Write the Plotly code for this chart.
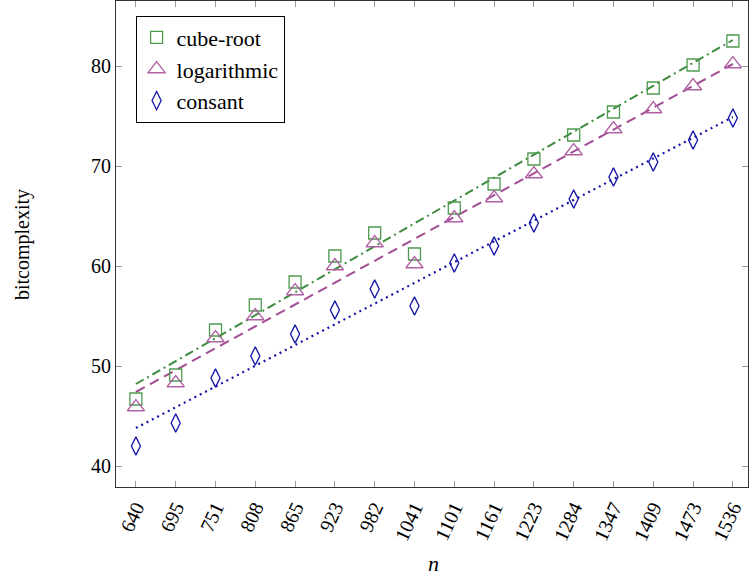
import plotly.graph_objects as go

n_labels = ["640", "695", "751", "808", "865", "923", "982", "1041",
            "1101", "1161", "1223", "1284", "1347", "1409", "1473", "1536"]

cube_root = [46.7, 49.1, 53.6, 56.1, 58.4, 61.0, 63.3, 61.2,
             65.8, 68.2, 70.7, 73.1, 75.4, 77.8, 80.1, 82.5]
logarithmic = [45.9, 48.3, 52.8, 55.0, 57.5, 60.0, 62.3, 60.2,
               64.8, 66.8, 69.2, 71.5, 73.7, 75.7, 78.0, 80.2]
constant = [42.0, 44.3, 48.8, 51.0, 53.2, 55.6, 57.7, 56.0,
            60.3, 62.0, 64.3, 66.7, 68.9, 70.4, 72.6, 74.8]

# trend line end points (at first and last n)
fit_x = ["640", "1536"]
cube_fit = [48.2, 82.6]
log_fit = [47.4, 80.2]
const_fit = [43.8, 74.9]

green = "#3d8b3d"
purple = "#a24d93"
blue = "#1414a8"
FONT = "'Liberation Serif', 'Times New Roman', serif"

fig = go.Figure()

fig.add_trace(go.Scatter(x=fit_x, y=cube_fit, mode="lines", showlegend=False,
                         line=dict(color=green, width=2, dash="9px,4px,2px,4px")))
fig.add_trace(go.Scatter(x=fit_x, y=log_fit, mode="lines", showlegend=False,
                         line=dict(color=purple, width=2, dash="10px,6px")))
fig.add_trace(go.Scatter(x=fit_x, y=const_fit, mode="lines", showlegend=False,
                         line=dict(color=blue, width=2.2, dash="2px,4px")))

fig.add_trace(go.Scatter(x=n_labels, y=cube_root, mode="markers", name="cube-root",
                         marker=dict(symbol="square-open", size=12, color="#4f9a4f",
                                     line=dict(width=1.3, color="#4f9a4f"))))
fig.add_trace(go.Scatter(x=n_labels, y=logarithmic, mode="markers", name="logarithmic",
                         marker=dict(symbol="triangle-up-open", size=15, color="#b060a3",
                                     line=dict(width=1.3, color="#b060a3"))))
fig.add_trace(go.Scatter(x=n_labels, y=constant, mode="markers", name="consant",
                         marker=dict(symbol="diamond-tall-open", size=13, color=blue,
                                     line=dict(width=1.3, color=blue))))

fig.update_layout(
    width=749, height=576,
    margin=dict(l=116, r=1, t=1, b=89, autoexpand=False),
    paper_bgcolor="white", plot_bgcolor="white",
    font=dict(family=FONT, size=20, color="black"),
    showlegend=True,
    legend=dict(x=0.031, y=0.97, xanchor="left", yanchor="top",
                bgcolor="white", bordercolor="black", borderwidth=1,
                font=dict(family=FONT, size=22), itemwidth=30,
                tracegroupgap=0),
)

fig.update_xaxes(
    type="category", categoryorder="array", categoryarray=n_labels,
    range=[-0.5, 15.38], tickangle=-65, automargin=False,
    ticks="inside", ticklen=6, tickcolor="#999999", tickwidth=1,
    showline=True, linecolor="#333333", linewidth=1.2, mirror="ticks",
    showgrid=False, zeroline=False,
    tickfont=dict(family=FONT, size=20),
)
fig.update_yaxes(
    range=[37.9, 86.5], tickvals=[40, 50, 60, 70, 80], automargin=False,
    ticks="inside", ticklen=6, tickcolor="#999999", tickwidth=1,
    showline=True, linecolor="#333333", linewidth=1.2, mirror="ticks",
    showgrid=False, zeroline=False,
    tickfont=dict(family=FONT, size=20),
)

# axis titles as annotations in pixel-consistent paper coordinates
fig.add_annotation(text="<i>n</i>", x=(433 - 116) / 632, xref="paper",
                   y=-(563 - 487) / 486, yref="paper", xanchor="center",
                   yanchor="middle", showarrow=False, font=dict(family=FONT, size=22))
fig.add_annotation(text="bitcomplexity", x=-(116 - 22) / 632, xref="paper",
                   y=1 - (245 - 1) / 486, yref="paper", xanchor="center",
                   yanchor="middle", textangle=-90, showarrow=False,
                   font=dict(family=FONT, size=20))

fig.write_html("out.html", config={"displayModeBar": False},
               post_script="document.body.style.margin='0px';")
